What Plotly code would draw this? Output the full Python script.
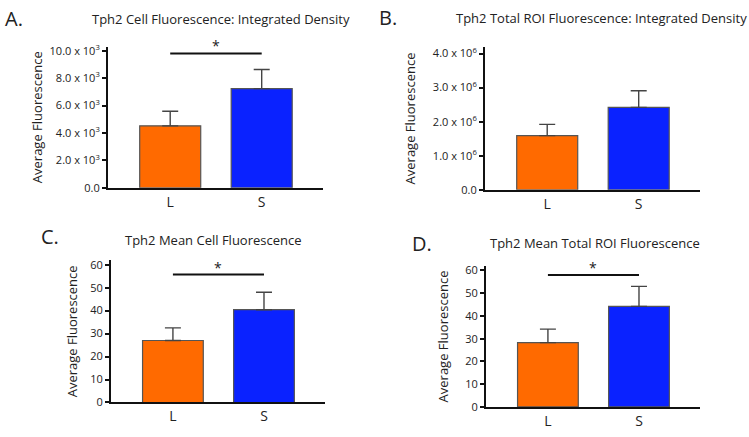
import plotly.graph_objects as go

W, H = 749, 437

categories = ["L", "S"]
colors = ["#FF6A00", "#0A22FF"]

# Panel A: Tph2 Cell Fluorescence: Integrated Density
a_values = [4520, 7230]
a_errors = [1060, 1400]
a_ticks = [0, 2000, 4000, 6000, 8000, 10000]
a_ticktext = ["0.0", "2.0 x 10<sup>3</sup>", "4.0 x 10<sup>3</sup>", "6.0 x 10<sup>3</sup>",
              "8.0 x 10<sup>3</sup>", "10.0 x 10<sup>3</sup>"]
a_sig = 9800

# Panel B: Tph2 Total ROI Fluorescence: Integrated Density
b_values = [1.59e6, 2.42e6]
b_errors = [0.33e6, 0.49e6]
b_ticks = [0, 1e6, 2e6, 3e6, 4e6]
b_ticktext = ["0.0", "1.0 x 10<sup>6</sup>", "2.0 x 10<sup>6</sup>", "3.0 x 10<sup>6</sup>",
              "4.0 x 10<sup>6</sup>"]

# Panel C: Tph2 Mean Cell Fluorescence
c_values = [27.0, 40.4]
c_errors = [5.5, 7.6]
c_ticks = [0, 10, 20, 30, 40, 50, 60]
c_sig = 55.7

# Panel D: Tph2 Mean Total ROI Fluorescence
d_values = [28.3, 44.2]
d_errors = [5.9, 8.8]
d_ticks = [0, 10, 20, 30, 40, 50, 60]
d_sig = 58.0

FONT = "Open Sans"
TXT = "#222222"

panels = [
    dict(letter="A.", title="Tph2 Cell Fluorescence: Integrated Density", v=a_values, e=a_errors,
         ticks=a_ticks, tt=a_ticktext, sig=a_sig, xd=(108, 323), yd=(42.7, 188), ytop=10300,
         title_xy=(221, 14), letter_xy=(3, 14), ylab_x=37),
    dict(letter="B.", title="Tph2 Total ROI Fluorescence: Integrated Density", v=b_values, e=b_errors,
         ticks=b_ticks, tt=b_ticktext, sig=None, xd=(485, 700), yd=(43.3, 190), ytop=4.19e6,
         title_xy=(601, 13), letter_xy=(377, 13), ylab_x=410),
    dict(letter="C.", title="Tph2 Mean Cell Fluorescence", v=c_values, e=c_errors,
         ticks=c_ticks, tt=[str(t) for t in c_ticks], sig=c_sig, xd=(111, 325), yd=(262.3, 408.7), ytop=62.0,
         title_xy=(213, 241.5), letter_xy=(39, 238), ylab_x=72),
    dict(letter="D.", title="Tph2 Mean Total ROI Fluorescence", v=d_values, e=d_errors,
         ticks=d_ticks, tt=[str(t) for t in d_ticks], sig=d_sig, xd=(486, 700), yd=(268.3, 413.3), ytop=62.0,
         title_xy=(594.5, 245), letter_xy=(410, 245), ylab_x=443),
]

fig = go.Figure()
layout = dict(width=W, height=H, margin=dict(l=0, r=0, t=0, b=0), paper_bgcolor="white",
              plot_bgcolor="white", showlegend=False)
annotations = []
shapes = []

for i, p in enumerate(panels):
    n = i + 1
    xa = "x" if n == 1 else f"x{n}"
    ya = "y" if n == 1 else f"y{n}"
    fig.add_trace(go.Bar(
        x=[0, 1], y=p["v"], width=0.667, xaxis=xa, yaxis=ya,
        marker=dict(color=colors, line=dict(color="#555555", width=1.2)),
        error_y=dict(type="data", symmetric=False, array=p["e"], arrayminus=[0, 0],
                     color="#444444", thickness=1.4, width=8),
        hoverinfo="skip",
    ))
    xk = "xaxis" if n == 1 else f"xaxis{n}"
    yk = "yaxis" if n == 1 else f"yaxis{n}"
    layout[xk] = dict(domain=[p["xd"][0] / W, p["xd"][1] / W], range=[-0.68, 1.67],
                      tickvals=[0, 1], ticktext=categories, showline=True, linecolor="#111111",
                      linewidth=2, ticks="", showgrid=False, zeroline=False, anchor=ya,
                      tickfont=dict(family=FONT, size=14, color=TXT), ticklabelstandoff=0)
    layout[yk] = dict(domain=[1 - p["yd"][1] / H, 1 - p["yd"][0] / H], range=[0, p["ytop"]],
                      tickvals=p["ticks"], ticktext=p["tt"], showline=True, linecolor="#111111",
                      linewidth=2, ticks="outside", ticklen=4, tickwidth=2, tickcolor="#111111",
                      showgrid=False, zeroline=False, anchor=xa,
                      tickfont=dict(family=FONT, size=11, color=TXT))
    if p["sig"] is not None:
        shapes.append(dict(type="line", xref=xa, yref=ya, x0=0, x1=1, y0=p["sig"], y1=p["sig"],
                           line=dict(color="#111111", width=2)))
        annotations.append(dict(xref=xa, yref=ya, x=0.5, y=p["sig"], text="*", showarrow=False,
                                yanchor="bottom", yshift=-4,
                                font=dict(family=FONT, size=14, color=TXT)))
    annotations.append(dict(xref="paper", yref="paper", x=p["title_xy"][0] / W, y=1 - p["title_xy"][1] / H,
                            text=p["title"], showarrow=False, xanchor="center", yanchor="middle",
                            font=dict(family=FONT, size=13, color=TXT)))
    annotations.append(dict(xref="paper", yref="paper", x=p["letter_xy"][0] / W, y=1 - p["letter_xy"][1] / H,
                            text=p["letter"], showarrow=False, xanchor="left", yanchor="middle",
                            font=dict(family=FONT, size=20, color=TXT)))
    ymid = (p["yd"][0] + p["yd"][1]) / 2
    annotations.append(dict(xref="paper", yref="paper", x=p["ylab_x"] / W, y=1 - ymid / H,
                            text="Average Fluorescence", showarrow=False, textangle=-90,
                            xanchor="center", yanchor="middle",
                            font=dict(family=FONT, size=13, color=TXT)))

layout["annotations"] = annotations
layout["shapes"] = shapes
fig.update_layout(**layout)
fig.write_html("out.html", config={"displayModeBar": False},
               post_script="document.body.style.margin='0';document.body.style.overflow='hidden';")
